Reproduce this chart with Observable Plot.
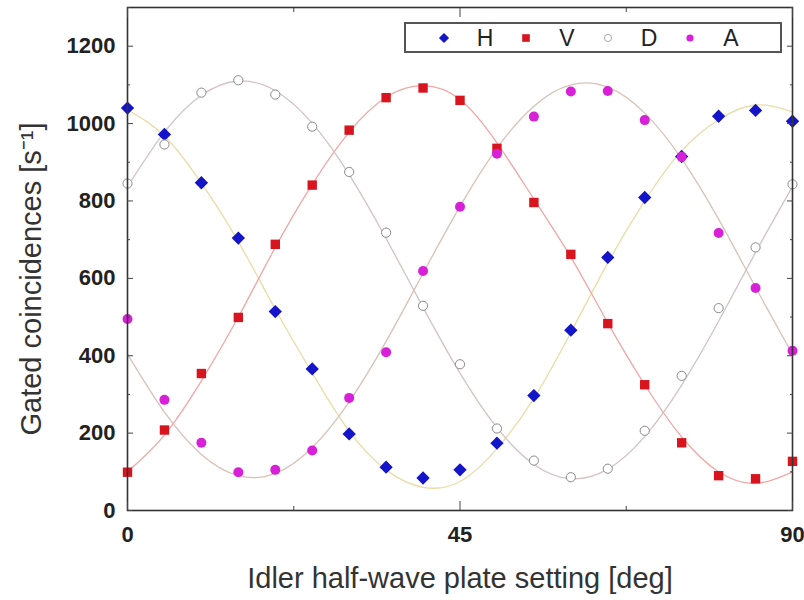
<!DOCTYPE html>
<html>
<head>
<meta charset="utf-8">
<script src="https://cdn.jsdelivr.net/npm/d3@7"></script>
<script src="https://cdn.jsdelivr.net/npm/@observablehq/plot@0.6"></script>
<style>
  body { margin: 0; background: white; }
  #wrap { position: relative; width: 804px; height: 600px; font-family: "Liberation Sans", Arial, sans-serif; }
  #legend { position: absolute; left: 404px; top: 22px; width: 374px; height: 27px; border: 2px solid #555; background: white; }
  #legend .sym { position: absolute; top: 0; }
  #legend .lab { position: absolute; top: 0; font-size: 23px; line-height: 28px; color: #222; transform: translateX(-50%); }
</style>
</head>
<body>
<div id="wrap"><div id="legend"></div></div>
<script>
// ---- data ----
const angles = [0, 5, 10, 15, 20, 25, 30, 35, 40, 45, 50, 55, 60, 65, 70, 75, 80, 85, 90];
const seriesNames = ["H", "V", "D", "A"];
const H = [1040, 972, 847, 704, 514, 366, 198, 112, 84, 105, 174, 297, 466, 654, 809, 915, 1019, 1034, 1006];
const V = [99, 208, 354, 499, 688, 841, 983, 1067, 1092, 1060, 936, 796, 662, 483, 325, 175, 90, 82, 127];
const D = [845, 946, 1080, 1112, 1075, 992, 875, 718, 529, 378, 212, 129, 86, 108, 206, 348, 523, 680, 843];
const A = [495, 286, 175, 99, 105, 155, 291, 409, 619, 785, 922, 1018, 1083, 1084, 1009, 914, 717, 575, 413];
// fitted curves at the same angles
const fitH = [1035, 968, 846, 695, 520, 355, 205, 105, 60, 75, 160, 290, 460, 640, 800, 930, 1010, 1048, 1030];
const fitV = [100, 195, 335, 500, 680, 843, 978, 1068, 1098, 1062, 950, 805, 655, 485, 325, 190, 100, 70, 100];
const fitD = [837, 978, 1073, 1110, 1085, 1001, 868, 703, 525, 355, 214, 119, 82, 107, 191, 324, 489, 667, 837];
const fitA = [404, 254, 145, 90, 96, 163, 281, 437, 613, 786, 936, 1045, 1100, 1094, 1027, 909, 753, 577, 404];
const yMajor = [0, 200, 400, 600, 800, 1000, 1200];
const yMinor = [100, 300, 500, 700, 900, 1100, 1300];
const xMajor = [0, 45, 90];
const xMinor = [22.5, 67.5];
const xTitle = "Idler half-wave plate setting [deg]";
const yTitle = "Gated coincidences [s\u207B\u00B9]";

// ---- styles ----
const style = {
  H: {symbol: "diamond2", r: 6, fill: "#1414c8", stroke: "none", line: "#e9dca6"},
  V: {symbol: "square", r: 5.3, fill: "#d8141e", stroke: "none", line: "#f2a6a6"},
  D: {symbol: "circle", r: 4.6, fill: "white", stroke: "#8a8a8a", line: "#d4c2c2"},
  A: {symbol: "circle", r: 5, fill: "#d820d8", stroke: "none", line: "#d8c2b6"}
};

const values = {H, V, D, A};
const fits = {H: fitH, V: fitV, D: fitD, A: fitA};
const pts = s => angles.map((a, i) => ({angle: a, value: values[s][i]}));
const fitRows = s => angles.map((a, i) => ({angle: a, value: fits[s][i]}));

const tickStroke = "#444";
const font = "Liberation Sans, Arial, sans-serif";

const marks = [];
for (const s of seriesNames) {
  marks.push(Plot.line(fitRows(s), {x: "angle", y: "value", curve: "natural", stroke: style[s].line, strokeWidth: 1.3}));
}
for (const s of seriesNames) {
  const st = style[s];
  marks.push(Plot.dot(pts(s), {x: "angle", y: "value", symbol: st.symbol, r: st.r, fill: st.fill, stroke: st.stroke, strokeWidth: s === "D" ? 1 : 0}));
}
const blank = () => "";
const plain = d => String(d);
marks.push(
  Plot.frame({stroke: "#333", strokeWidth: 1.6}),
  Plot.axisY({ticks: yMajor, tickSize: 6, dx: 6, tickFormat: blank, label: null, stroke: tickStroke}),
  Plot.axisY({ticks: yMinor, tickSize: 3, dx: 3, tickFormat: blank, label: null, stroke: tickStroke}),
  Plot.axisY({anchor: "right", ticks: yMajor, tickSize: 6, dx: -6, tickFormat: blank, label: null, stroke: tickStroke}),
  Plot.axisY({anchor: "right", ticks: yMinor, tickSize: 3, dx: -3, tickFormat: blank, label: null, stroke: tickStroke}),
  Plot.axisX({ticks: xMajor, tickSize: 9, dy: -9, tickFormat: blank, label: null, stroke: tickStroke}),
  Plot.axisX({ticks: xMinor, tickSize: 4, dy: -4, tickFormat: blank, label: null, stroke: tickStroke}),
  Plot.axisX({anchor: "top", ticks: xMajor, tickSize: 9, dy: 9, tickFormat: blank, label: null, stroke: tickStroke}),
  Plot.axisX({anchor: "top", ticks: xMinor, tickSize: 4, dy: 4, tickFormat: blank, label: null, stroke: tickStroke}),
  Plot.axisY({ticks: yMajor, tickSize: 0, tickPadding: 12, tickFormat: plain, fontSize: 22, fontWeight: "bold", label: null, fill: "#222"}),
  Plot.axisX({ticks: xMajor, tickSize: 0, tickPadding: 16, tickFormat: plain, fontSize: 22, fontWeight: "bold", label: null, fill: "#222"}),
  Plot.text([xTitle], {frameAnchor: "bottom", dy: 68, textAnchor: "middle", lineAnchor: "middle", fontSize: 29, fill: "#333", fontFamily: font}),
  Plot.text([yTitle], {frameAnchor: "left", dx: -96, dy: 20, textAnchor: "middle", lineAnchor: "middle", rotate: -90, fontSize: 29, fill: "#333", fontFamily: font})
);

const chart = Plot.plot({
  width: 804,
  height: 600,
  marginLeft: 127,
  marginRight: 12,
  marginTop: 7,
  marginBottom: 90,
  x: {domain: [0, 90], label: null},
  y: {domain: [0, 1300], label: null},
  style: {fontFamily: font, background: "white", color: "#222"},
  marks
});
const wrap = document.getElementById("wrap");
wrap.insertBefore(chart, wrap.firstChild);

// ---- legend ----
const legend = document.getElementById("legend");
seriesNames.forEach((s, k) => {
  const st = style[s];
  const symCenter = 38 + 82 * k;   // relative to legend box
  const labCenter = 79 + 82 * k;
  const svg = d3.create("svg").attr("class", "sym").attr("width", 20).attr("height", 28)
    .style("left", (symCenter - 10) + "px");
  const symType = {diamond2: d3.symbolDiamond2, square: d3.symbolSquare, circle: d3.symbolCircle}[st.symbol];
  const size = s === "D" || s === "A" ? Math.PI * 3.6 * 3.6 : s === "H" ? Math.PI * 4.6 * 4.6 : Math.PI * 4.3 * 4.3;
  svg.append("path").attr("d", d3.symbol(symType, size)()).attr("transform", "translate(10,14)")
    .attr("fill", st.fill).attr("stroke", s === "D" ? "#aaa" : "none");
  legend.appendChild(svg.node());
  const lab = document.createElement("span");
  lab.className = "lab";
  lab.style.left = labCenter + "px";
  lab.textContent = s;
  legend.appendChild(lab);
});
</script>
</body>
</html>
